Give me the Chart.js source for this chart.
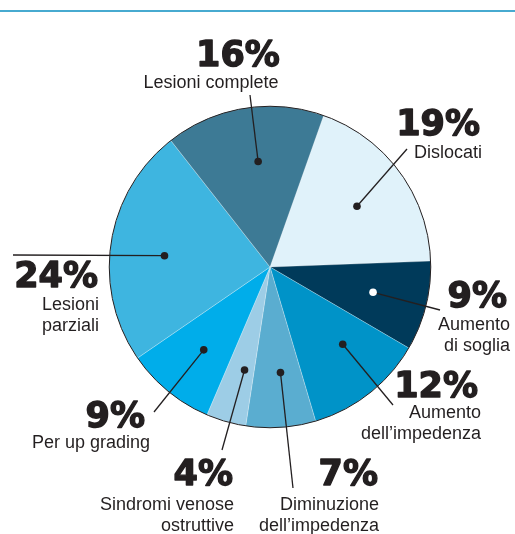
<!DOCTYPE html>
<html>
<head>
<meta charset="utf-8">
<script src="https://cdn.jsdelivr.net/npm/chart.js@4.4.1/dist/chart.umd.min.js"></script>
<style>
  html, body { margin: 0; padding: 0; background: #fff; }
  canvas { display: block; }
</style>
</head>
<body>
<canvas id="causeChart" width="515" height="534"></canvas>
<script>
// slices, clockwise from the "Dislocati" edge
var categories = ['Dislocati', 'Aumento di soglia', 'Aumento dell\u2019impedenza', 'Diminuzione dell\u2019impedenza',
  'Sindromi venose ostruttive', 'Per up grading', 'Lesioni parziali', 'Lesioni complete'];
var shares = [19, 9, 12, 7, 4, 9, 24, 16];
var labelLines = [
  ['Dislocati'],
  ['Aumento', 'di soglia'],
  ['Aumento', 'dell\u2019impedenza'],
  ['Diminuzione', 'dell\u2019impedenza'],
  ['Sindromi venose', 'ostruttive'],
  ['Per up grading'],
  ['Lesioni', 'parziali'],
  ['Lesioni complete']
];
var sliceColors = ['#e0f2fa', '#003a5a', '#0093c8', '#5aadd0', '#9dcde6', '#00adea', '#3eb5e0', '#3d7a95'];

// callout placement: where the dot sits inside the slice, where the leader ends, where the text goes
var callouts = [
  { at: 0.52, dot: '#231f20', tip: [407, 149], align: 'right', pctX: 480, textX: 482, pctY: 135, textY: 158 },
  { at: 0.49, dot: '#ffffff', tip: [440, 310], align: 'right', pctX: 507, textX: 510, pctY: 307, textY: 330 },
  { at: 0.38, dot: '#231f20', tip: [393, 405], align: 'right', pctX: 478, textX: 481, pctY: 397, textY: 418 },
  { at: 0.43, dot: '#231f20', tip: [293, 488], align: 'right', pctX: 378, textX: 379, pctY: 485, textY: 510 },
  { at: 0.36, dot: '#231f20', tip: [222, 450], align: 'right', pctX: 233, textX: 234, pctY: 485, textY: 510 },
  { at: 0.48, dot: '#231f20', tip: [154, 412], align: 'right', pctX: 145, textX: 150, pctY: 427, textY: 448 },
  { at: 0.47, dot: '#231f20', tip: [13, 255], align: 'right', pctX: 98, textX: 99, pctY: 287, textY: 310 },
  { at: 0.55, dot: '#231f20', tip: [250, 95], align: 'center', pctX: 238, textX: 211, pctY: 66, textY: 88 }
];

var ink = '#231f20';

var pieExtras = {
  id: 'pieExtras',
  beforeDraw: function (chart) {
    var ctx = chart.ctx;
    ctx.save();
    ctx.fillStyle = '#47aad0';
    ctx.fillRect(0, 10, chart.width, 2);
    ctx.restore();
  },
  afterDatasetsDraw: function (chart) {
    var ctx = chart.ctx;
    var arcs = chart.getDatasetMeta(0).data;
    var c = arcs[0];

    // thin rim round the pie
    ctx.save();
    ctx.strokeStyle = ink;
    ctx.lineWidth = 1;
    ctx.beginPath();
    ctx.arc(c.x, c.y, c.outerRadius, 0, Math.PI * 2);
    ctx.stroke();

    arcs.forEach(function (arc, i) {
      var o = callouts[i];
      var a = arc.startAngle + (arc.endAngle - arc.startAngle) * o.at;
      var r = arc.outerRadius * 0.66;
      var dx = arc.x + Math.cos(a) * r;
      var dy = arc.y + Math.sin(a) * r;

      ctx.strokeStyle = ink;
      ctx.lineWidth = 1.3;
      ctx.beginPath();
      ctx.moveTo(dx, dy);
      ctx.lineTo(o.tip[0], o.tip[1]);
      ctx.stroke();

      ctx.fillStyle = o.dot;
      ctx.beginPath();
      ctx.arc(dx, dy, 3.8, 0, Math.PI * 2);
      ctx.fill();

      // heavy percentage figure, stroked a little to get the black weight
      ctx.fillStyle = ink;
      ctx.textAlign = o.align;
      ctx.textBaseline = 'alphabetic';
      ctx.font = 'bold 35px "DejaVu Sans"';
      ctx.lineWidth = 1.4;
      ctx.lineJoin = 'round';
      ctx.fillText(shares[i] + '%', o.pctX, o.pctY);
      ctx.strokeText(shares[i] + '%', o.pctX, o.pctY);

      ctx.font = '18px "Liberation Sans", Arial, sans-serif';
      labelLines[i].forEach(function (line, k) {
        ctx.fillText(line, o.textX, o.textY + k * 21);
      });
    });
    ctx.restore();
  }
};

var ctx1 = document.getElementById('causeChart');
var causeChart = new Chart(ctx1, {
  type: 'pie',
  data: {
    labels: categories,
    datasets: [{
      data: shares,
      backgroundColor: sliceColors,
      borderColor: 'rgba(255, 255, 255, 0.5)',
      borderWidth: 0.5
    }]
  },
  options: {
    responsive: false,
    animation: false,
    rotation: 19.5,
    events: [],
    layout: {
      padding: { left: 109, right: 84, top: 106, bottom: 106 }
    },
    plugins: {
      legend: { display: false },
      tooltip: { enabled: false }
    }
  },
  plugins: [pieExtras]
});
</script>
</body>
</html>
